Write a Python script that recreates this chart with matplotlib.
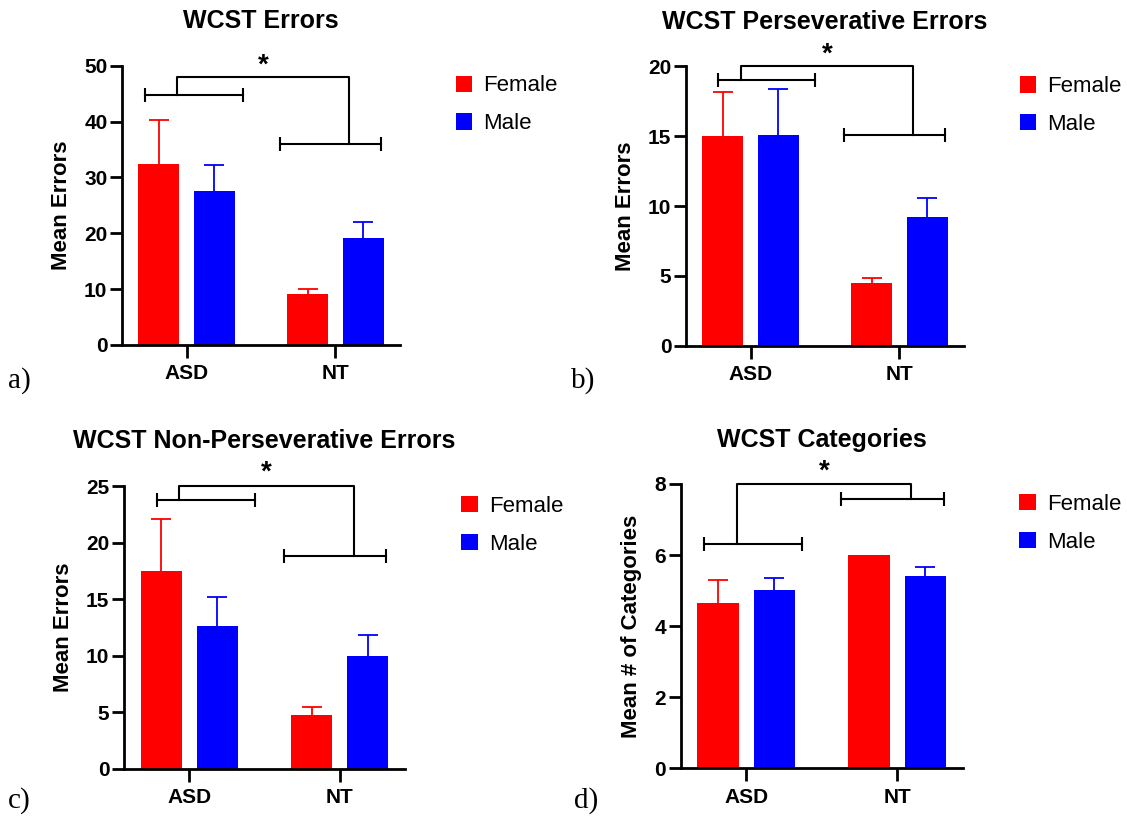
import matplotlib
matplotlib.use("Agg")
import matplotlib.pyplot as plt
import numpy as np

plt.rcParams['font.family'] = ['Liberation Sans', 'DejaVu Sans']

groups = ["ASD", "NT"]
sexes = ["Female", "Male"]
colors = ["#ff0000", "#0000ff"]

titles = ["WCST Errors", "WCST Perseverative Errors",
          "WCST Non-Perseverative Errors", "WCST Categories"]
ylabels = ["Mean Errors", "Mean Errors", "Mean Errors", "Mean # of Categories"]
ymax = [50, 20, 25, 8]
ystep = [10, 5, 5, 2]
panel_tags = ["a)", "b)", "c)", "d)"]

# means and upper error (SEM) per panel: [ASD, NT]
female_mean = [[32.4, 9.1], [15.03, 4.47], [17.46, 4.74], [4.66, 6.0]]
female_err = [[7.8, 1.0], [3.13, 0.35], [4.64, 0.76], [0.64, 0.0]]
male_mean = [[27.6, 19.1], [15.1, 9.21], [12.66, 9.98], [5.02, 5.42]]
male_err = [[4.7, 3.0], [3.3, 1.39], [2.51, 1.83], [0.33, 0.25]]

# significance brackets: (x0, x1, y) for ASD and NT, then top bracket, star y
asd_brk = [(-0.278, 0.377, 44.8), (-0.22, 0.434, 19.0), (-0.217, 0.436, 23.76), (-0.283, 0.372, 6.32)]
nt_brk = [(0.63, 1.31, 36.0), (0.63, 1.309, 15.06), (0.633, 1.311, 18.84), (0.63, 1.309, 7.59)]
top_brk = [(-0.067, 1.092, 48.0), (-0.063, 1.094, 20.0), (-0.067, 1.093, 24.97), (-0.062, 1.09, 8.0)]
star_y = [50.1, 20.85, 26.15, 8.36]

W, H = 1127, 818
fig = plt.figure(figsize=(W / 100, H / 100), dpi=100)

# axes boxes in pixels: left, bottom(from top), width, height
boxes = [(122, 345, 278, 279.3), (686, 345.7, 278, 279.3),
         (124, 769, 281, 283), (680.7, 768.3, 282, 284.3)]
tag_pos = [(8, 388), (571, 388), (8, 808), (574, 808)]

bw = 0.275
off = 0.187
x = np.arange(len(groups))

for i in range(4):
    l, b, w, h = boxes[i]
    ax = fig.add_axes([l / W, 1 - b / H, w / W, h / H])
    for j, (m, e) in enumerate([(female_mean[i], female_err[i]), (male_mean[i], male_err[i])]):
        xs = x + (j * 2 - 1) * off
        ax.bar(xs, m, width=bw, color=colors[j], label=sexes[j], zorder=2)
        for k in range(len(m)):
            if e[k] > 0:
                # symmetric bar drawn behind the column, so only the upper half shows
                ax.errorbar(xs[k], m[k], yerr=e[k], fmt='none', ecolor=colors[j],
                            elinewidth=1.3, capsize=7.5, capthick=1.3, zorder=1)

    # brackets
    for x0, x1, y in (asd_brk[i], nt_brk[i]):
        ax.plot([x0, x1], [y, y], color='black', lw=1.5, clip_on=False)
        ax.plot([x0, x1], [y, y], ls='none', marker='|', ms=10, mew=1.5,
                color='black', clip_on=False)
    tl, tr, ty = top_brk[i]
    ax.plot([tl, tl, tr, tr], [asd_brk[i][2], ty, ty, nt_brk[i][2]],
            color='black', lw=1.5, clip_on=False)
    ax.text((tl + tr) / 2, star_y[i], "*", ha='center', va='center',
            fontsize=20, fontweight='bold', clip_on=False)

    ax.set_xlim(-0.435, 1.435)
    ax.set_ylim(0, ymax[i])
    ax.set_yticks(np.arange(0, ymax[i] + 0.1, ystep[i]))
    ax.set_xticks(x)
    ax.set_xticklabels(groups)
    for s in ['top', 'right']:
        ax.spines[s].set_visible(False)
    for s in ['left', 'bottom']:
        ax.spines[s].set_linewidth(2)
    ax.tick_params(axis='both', width=2, length=9, labelsize=15)
    ax.tick_params(axis='y', pad=1.5)
    ax.tick_params(axis='x', pad=5)
    for t in ax.get_xticklabels() + ax.get_yticklabels():
        t.set_fontweight('bold')
    ax.set_ylabel(ylabels[i], fontsize=16, fontweight='bold', labelpad=9)
    ax.set_title(titles[i], fontsize=18, fontweight='bold', pad=27)

    ax.legend(loc='upper left', bbox_to_anchor=(1.2, 0.965), frameon=False,
              fontsize=16, handlelength=0.75, handleheight=0.75, handletextpad=0.5,
              labelspacing=0.75, borderaxespad=0, borderpad=0)

    fig.text(tag_pos[i][0] / W, 1 - tag_pos[i][1] / H, panel_tags[i],
             fontsize=21, family='Liberation Serif', va='baseline')

fig.savefig("out.png", dpi=100)
